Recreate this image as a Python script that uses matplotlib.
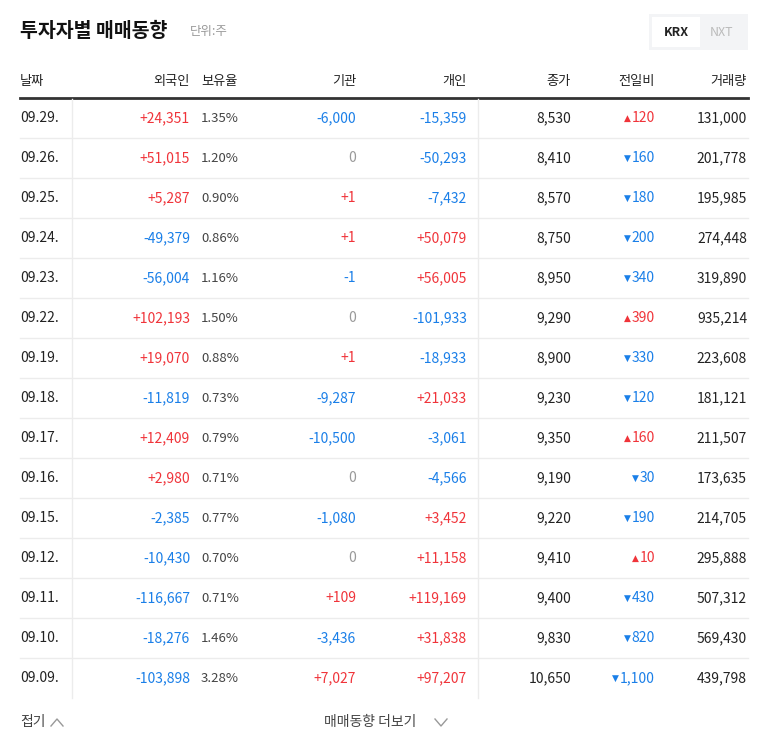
import matplotlib
matplotlib.use('Agg')
import matplotlib.pyplot as plt

plt.rcParams['font.family'] = ['Noto Sans CJK KR', 'Noto Sans CJK JP', 'Noto Sans CJK SC',
                               'Noto Sans CJK TC', 'DejaVu Sans']

dates = ['09.29.', '09.26.', '09.25.', '09.24.', '09.23.', '09.22.', '09.19.', '09.18.',
         '09.17.', '09.16.', '09.15.', '09.12.', '09.11.', '09.10.', '09.09.']
foreign = [24351, 51015, 5287, -49379, -56004, 102193, 19070, -11819,
           12409, 2980, -2385, -10430, -116667, -18276, -103898]
holding = ['1.35%', '1.20%', '0.90%', '0.86%', '1.16%', '1.50%', '0.88%', '0.73%',
           '0.79%', '0.71%', '0.77%', '0.70%', '0.71%', '1.46%', '3.28%']
inst = [-6000, 0, 1, 1, -1, 0, 1, -9287, -10500, 0, -1080, 0, 109, -3436, 7027]
indiv = [-15359, -50293, -7432, 50079, 56005, -101933, -18933, 21033,
         -3061, -4566, 3452, 11158, 119169, 31838, 97207]
close = [8530, 8410, 8570, 8750, 8950, 9290, 8900, 9230, 9350, 9190, 9220, 9410, 9400, 9830, 10650]
change = [120, -160, -180, -200, -340, 390, -330, -120, 160, -30, -190, 10, -430, -820, -1100]
volume = [131000, 201778, 195985, 274448, 319890, 935214, 223608, 181121,
          211507, 173635, 214705, 295888, 507312, 569430, 439798]

headers = ['날짜', '외국인', '보유율', '기관', '개인', '종가', '전일비', '거래량']

RED = '#f0343a'
BLUE = '#1a7fe8'
GRAY = '#999999'
DARK = '#222222'


def signed(v):
    if v > 0:
        return f'+{v:,}', RED
    if v < 0:
        return f'{v:,}', BLUE
    return '0', GRAY


fig = plt.figure(figsize=(7.68, 7.49), dpi=100)
ax = fig.add_axes([0, 0, 1, 1])
ax.set_xlim(0, 768)
ax.set_ylim(749, 0)
ax.axis('off')

ax.text(20, 31, '투자자별 매매동향', fontsize=14, fontweight='bold', color='#111111', va='center')
ax.text(190, 31, '단위:주', fontsize=9, color='#999999', va='center')

ax.add_patch(plt.Rectangle((649, 14), 99, 36, facecolor='#f3f4f6', edgecolor='none'))
ax.add_patch(plt.Rectangle((652, 17), 48, 30, facecolor='white', edgecolor='none'))
ax.text(676, 33, 'KRX', fontsize=9, fontweight='bold', color='#222222', ha='center', va='center')
ax.text(722, 33, 'NXT', fontsize=9, color='#bbbbbb', ha='center', va='center')

col_x = [20, 190, 201, 356, 467, 571, 655, 747]
col_ha = ['left', 'right', 'left', 'right', 'right', 'right', 'right', 'right']
for h, x, a in zip(headers, col_x, col_ha):
    ax.text(x, 81, h, fontsize=9.5, color='#222222', ha=a, va='center')

ax.plot([20, 748], [98, 98], color='#333333', lw=2)
y0, dy = 118, 40
n = len(dates)
for i in range(n - 1):
    y = y0 + dy * i + dy / 2
    ax.plot([20, 748], [y, y], color='#ececec', lw=1)
for x in (72, 478):
    ax.plot([x, x], [99, y0 + dy * (n - 1) + 20], color='#ececec', lw=1)

fig.canvas.draw()
renderer = fig.canvas.get_renderer()
for i in range(n):
    y = y0 + dy * i
    fs = 10
    ax.text(20, y, dates[i], fontsize=fs, color=DARK, va='center')
    s, c = signed(foreign[i])
    ax.text(190, y, s, fontsize=fs, color=c, ha='right', va='center')
    ax.text(201, y, holding[i], fontsize=9.5, color='#444444', ha='left', va='center')
    s, c = signed(inst[i])
    ax.text(356, y, s, fontsize=fs, color=c, ha='right', va='center')
    s, c = signed(indiv[i])
    ax.text(467, y, s, fontsize=fs, color=c, ha='right', va='center')
    ax.text(571, y, f'{close[i]:,}', fontsize=fs, color=DARK, ha='right', va='center')
    c = RED if change[i] > 0 else BLUE
    t = ax.text(655, y, f'{abs(change[i]):,}', fontsize=fs, color=c, ha='right', va='center')
    bb = t.get_window_extent(renderer)
    x_left = ax.transData.inverted().transform((bb.x0, 0))[0]
    ax.text(x_left - 1, y, '▲' if change[i] > 0 else '▼', fontsize=6.5, color=c,
            ha='right', va='center', family='DejaVu Sans')
    ax.text(747, y, f'{volume[i]:,}', fontsize=fs, color=DARK, ha='right', va='center')

ax.text(20, 722, '접기', fontsize=10, color='#444444', va='center')
ax.plot([51, 57, 63], [726, 719, 726], color='#999999', lw=1)
ax.text(324, 722, '매매동향 더보기', fontsize=10, color='#444444', va='center')
ax.plot([435, 441, 447], [719, 726, 719], color='#999999', lw=1)

fig.savefig('out.png', dpi=100)
